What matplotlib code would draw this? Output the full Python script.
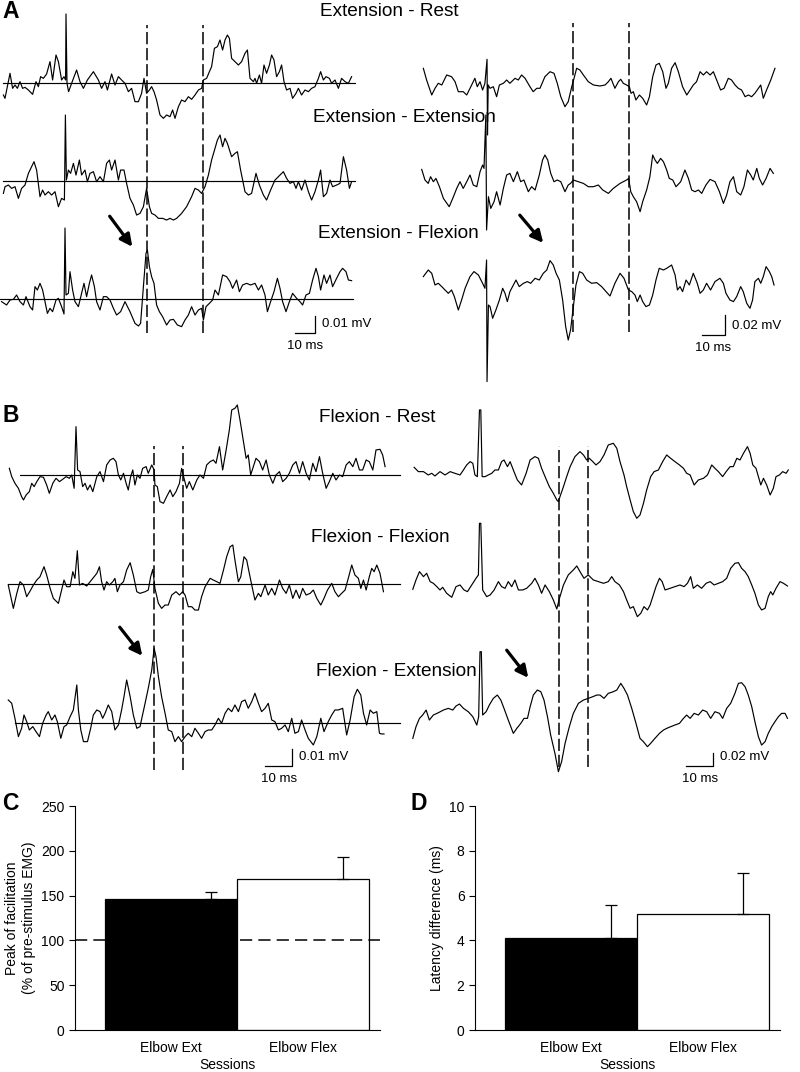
import numpy as np
import matplotlib.pyplot as plt

plt.rcParams['font.family'] = ['Liberation Sans', 'DejaVu Sans']

W, H = 800, 1072

# averaged EMG sweeps: (time from sweep start in ms, amplitude in uV)
ext_rest_L = np.array([
    (1.7, -7.2), (2.5, -9.2), (5, 5.8), (6.3, -3.2), (7.5, -1.2), (8.7, -3.2), (10, 0.8), (11.3, -3.2),
    (12.5, -2.6), (14.2, -4.2), (16.3, -6.8), (18, 0.8), (19.2, -2.2), (20.3, 3.8), (21.7, 2.8), (23.3, 5.4),
    (25, 12.8), (26.3, 1.8), (28, 16.8), (29.2, 12.8), (30.8, 1.8), (32, 3.8), (32.8, 1.8), (33, 41.4),
    (33.5, -0.2), (34.3, -5.2), (35.8, -0.2), (38.3, 7.8), (40, 0.8), (41.7, -3.2), (43.7, 1.8), (46.7, 6.8),
    (49.2, 1.8), (50.8, -3.2), (52.5, 0.8), (53.7, -4.2), (55.8, 5.4), (57.5, -1.2), (59.2, 3.8), (60.8, 1.8),
    (62.5, -0.2), (64.2, -5.2), (65.8, -3.2), (67.5, -11.2), (69.2, -11.2), (70.8, -6.2), (72, 2.8), (73.3, -6.2),
    (74.7, -4.2), (75.8, -2.2), (77, -5.2), (78.3, -10.2), (80, -19.2), (81.7, -21.2), (83.3, -19.2), (85, -20.2),
    (86.3, -16.2), (87.5, -21.2), (89.2, -14.2), (90.8, -10.2), (92.5, -11.2), (94.2, -8.2), (95.8, -9.8), (97.5, -7.2),
    (99.2, -4.2), (100.8, -3.2), (101.7, 1.8), (103.3, 2.8), (104.7, 6.8), (105.8, 9.8), (107.2, 20.8), (108.7, 21.8),
    (110, 25.8), (111.3, 19.8), (112.5, 25.8), (113.7, 28.8), (114.7, 26.8), (115.8, 14.8), (117.5, 12.8), (119.2, 10.8),
    (120.8, 12.8), (122.5, 17.8), (123.7, 19.8), (125, 2.8), (126.7, 0.8), (127.5, 2.8), (128.3, -0.2), (129.7, 4.8),
    (130.8, -0.2), (132, 10.8), (133.3, 5.8), (134.7, 10.8), (135.8, 16.8), (137, 13.8), (138.3, 3.8), (139.7, 6.8),
    (140.8, 10.8), (142, 0.8), (143.3, -4.2), (145, -3.2), (146.3, -9.2), (148, -6.2), (149.2, -3.2), (150.8, -7.2),
    (152.5, -4.2), (154.2, -5.2), (155.8, -3.2), (157.5, -2.2), (159.2, 2.8), (160.3, 6.8), (161.7, 1.8), (163, 3.8),
    (164.7, 2.8), (165.8, -0.2), (167.5, 1.8), (169.2, -3.2), (170.8, 2.8), (172.5, 0.8), (174.2, -0.2), (175.8, 3.8)])

ext_ext_L = np.array([
    (1.7, -7.6), (2.5, -3.6), (4.2, -2.6), (5.8, -4.6), (7.5, -3.6), (9.2, -10.6), (10.8, -4.6), (12.5, -2.6),
    (14.2, 4.4), (15.8, 8.4), (17, 11.4), (18.3, 6.4), (20, -9.6), (21.3, -5.6), (22.5, -8.6), (24.2, -6.6),
    (25.8, -8.6), (27.5, -6.6), (29.2, -15.6), (30.8, -10.6), (32.2, -11.6), (32.7, 39.4), (33.2, 0.4), (34.2, 6.4),
    (35.3, 4.4), (36.7, 10.4), (38, 3.4), (39.7, 12.4), (40.8, 3.4), (42.5, 6.4), (43.7, -0.6), (45, 4.4),
    (46.7, 5.4), (48.3, -0.6), (50, 2.4), (51.7, -0.6), (53.3, 10.4), (54.7, 12.4), (55.8, 6.4), (57.5, 12.4),
    (59.2, 0.4), (60.3, 6.4), (62, 6.4), (63.3, -1.6), (65, -10.6), (66.7, -14.6), (68.3, -20.6), (70, -19.6),
    (71.7, -15.6), (73.3, -4.6), (74.7, -15.6), (75.8, -19.6), (77.5, -20.6), (79.2, -22.6), (81.3, -22.6), (83.3, -23.6),
    (85, -22.6), (86.7, -23.6), (88.3, -22.6), (90.8, -19.6), (93.3, -15.6), (95.8, -9.6), (97.5, -4.6), (99.2, -5.6),
    (100.8, -7.6), (102.5, -3.6), (104.2, 3.4), (105.8, 12.4), (107.5, 19.4), (108.7, 24.4), (110, 27.4), (111.3, 20.4),
    (112.5, 25.4), (113.7, 22.4), (115.8, 14.4), (117.5, 16.4), (118.7, 17.4), (120.3, 6.4), (122.5, -6.6), (124.2, -8.6),
    (125.8, -7.6), (128, 4.4), (129.7, -2.6), (131.7, -8.6), (133.3, -11.6), (135.3, -5.6), (137.5, 0.4), (140, 3.4),
    (141.7, 5.4), (143.3, 1.4), (145, -1.6), (146.7, -0.6), (148, -4.6), (149.2, -0.6), (150.8, -5.6), (152.5, 0.4),
    (154.2, -6.6), (155.8, -11.6), (157.5, -6.6), (159.2, 0.4), (160.3, 6.4), (161.7, -9.6), (163.3, -7.6), (165, 0.4),
    (166.3, -3.6), (168.3, -2.6), (170, -1.6), (171.7, 14.4), (173.3, 6.4), (174.7, -4.6), (175.8, -0.6)])

ext_flex_L = np.array([
    (0.8, -1.6), (3.3, -3.6), (5, -0.6), (6.7, -0.2), (8.3, 2.4), (10, -1.6), (11.7, -3.6), (13, 1.4),
    (15, -4.6), (16.3, -6.6), (17.5, 7.4), (18.7, 5.4), (20, 9.4), (21.3, 5.4), (22.5, -1.6), (23.7, -8.6),
    (25, -5.6), (26.3, -7.6), (28, -0.6), (29.2, 0.4), (30.8, -4.6), (32, -9), (32.5, 42.6), (33, 2.4),
    (34.2, 3.4), (35, 16.4), (36.3, 5.4), (37.5, -1.6), (39.2, -4.6), (40.8, 3.4), (42, 9.4), (43.3, 1.4),
    (44.7, 9.4), (45.8, 14.4), (47.2, 7.4), (48.3, -1.6), (50, -6.6), (51.7, 1.4), (53.3, 1.4), (55, -0.6),
    (56.7, -5.6), (58.3, -9.6), (60.3, -7.6), (62.5, -1.6), (65, -7.6), (67.5, -14.6), (69.2, -16.2), (70.3, -14.6),
    (71.7, 7.4), (73, 27.4), (73.7, 29.4), (74.7, 19.4), (75.8, 13.4), (77, 9.4), (78.3, -3.6), (79.7, -7.6),
    (81.3, -10.6), (83.3, -15.6), (85, -12.6), (86.7, -12.2), (88.7, -15.6), (90.8, -16.6), (92.5, -12.6), (94.2, -9.6),
    (95.8, -4.6), (97.5, -9.6), (99.2, -6.6), (100.8, -5.6), (101.7, -12.6), (103, -4.6), (104.7, -2.6), (106.3, -0.6),
    (107.5, 5.4), (109.2, 2.4), (111.3, 14.4), (113.3, 13.4), (115, 10.4), (116.3, 6.4), (118.3, 11.4), (119.7, 4.4),
    (121.3, 8.4), (123.3, 9.4), (125.3, 8.4), (127.5, 9.4), (129.2, 5.4), (130.8, 8.4), (132.5, 2.4), (133.7, -7.6),
    (135.3, -1.6), (137, 4.4), (138.7, 12.4), (140, 6.4), (141.3, -1.6), (143, -7.6), (144.7, -1.6), (146.3, 3.4),
    (148.3, 0.4), (150, -1.6), (151.3, -3.6), (153, 2.4), (154.7, 3.4), (156.3, 11.4), (158, 18.4), (159.2, 13.4),
    (160.3, 5.4), (162, 14.4), (163.3, 9.4), (165, 14.4), (166.3, 7.4), (168.3, 12.4), (170, 16.4), (171.3, 18.4),
    (173, 16.4), (174.2, 11.4), (175.8, 11)])

ext_rest_R = np.array([
    (10, 11.7), (11.4, 0), (13.6, -15), (15, -8.3), (16.4, -3.3), (17.9, -5), (20, 5), (22.1, 3.3),
    (23.6, -1.7), (25, -11.7), (27.1, -11.7), (28.6, -15), (30.7, -5), (32.1, 1.7), (33.1, -6.7), (34.3, -1.7),
    (35.4, -10), (36.4, -3.3), (37.3, 20.7), (37.5, -55), (37.8, -5), (38.6, -8.3), (40, -6.7), (41.4, -16.7),
    (42.6, -5), (44.3, -3.3), (45.7, 0), (47.1, -3.3), (49.3, 1.7), (50.7, 0), (52.1, 5), (53.6, 1.7),
    (55.7, -6.7), (57.1, -11.7), (58.6, -8.3), (60, -8.3), (62.1, 3.3), (64.3, 8.3), (66, 6.7), (67.4, -3.3),
    (68.9, -16.7), (70.7, -26.7), (72.1, -21.7), (73.6, -6.7), (74.6, 1.7), (75.7, 11.7), (77.1, 10), (78.6, 5),
    (80.7, -1.7), (82.9, -5), (85.7, -6), (87.9, -5), (89.3, -1.7), (90.4, 1.7), (92.1, -8.3), (93.6, -1.7),
    (94.6, 0.7), (95.7, -3.3), (97.1, -5), (98.3, -6.7), (99, -13.3), (100, -11.7), (101.1, -20), (102.6, -15),
    (104, -18.3), (105.7, -25), (106.9, -16.7), (108.3, 3.3), (109.7, 15), (111.1, 16.7), (112.6, 8.3), (114, -8.3),
    (115, -3.3), (116.4, 11.7), (117.9, 17.3), (119.3, 8.3), (121.1, -6.7), (122.9, -15), (124.3, -10), (125.7, -5),
    (127.1, -1.7), (128.6, 8.3), (130, 5), (131.4, 8.3), (132.9, 5), (134.3, 8.3), (136, -1.7), (137.4, -10),
    (138.9, -8.3), (140.7, 1.7), (142.1, 0), (143.6, -5), (145, -8.3), (146.4, -10), (147.9, -16.7), (149.3, -15),
    (150.7, -16.7), (152.1, -13.3), (153.6, -8.3), (154.6, -5), (155.7, -18.3), (157.1, -10), (158.9, 0), (160.7, 11.7)])

ext_ext_R = np.array([
    (9.3, 12.3), (10.7, 1.7), (12.1, -1.7), (13.1, 5), (14.3, 0), (15.4, 3.3), (16.9, -5), (18.6, -16.7),
    (21.1, -25), (22.9, -15), (24.3, -6.7), (25.7, 0), (27.1, -6.7), (28.6, 0), (30, 6.7), (31.4, -3.3),
    (32.9, -5), (34.3, 10), (35.4, 16.7), (36, 13.3), (36.8, 66.7), (37.1, -48.3), (37.9, -15), (38.9, -26.7),
    (40.3, -20), (41.4, -10), (42.9, -23.3), (44.3, -6.7), (45.7, 6.7), (47.1, 8.3), (48.6, 0), (50.3, 10),
    (51.7, 0), (53.1, 1.7), (55, -10), (56.4, -5), (57.9, -8.3), (59.7, 6.7), (61.1, 21.7), (62.1, 26.7),
    (63.3, 21.7), (64.6, 8.3), (66, 0), (67.4, 1.7), (68.9, 0), (70.7, -10), (72.1, -3.3), (73.1, -1.7),
    (74.3, 1.7), (76.4, 0), (78.6, -1.7), (80.7, -5), (82.9, -5), (85, -3.3), (86.9, -8.3), (89.3, -11.7),
    (91.4, -6.7), (94.3, -1.7), (97.1, 1.7), (98, 3.3), (98.9, -10), (100, -15), (101.4, -20), (102.9, -30),
    (104, -20), (105.7, -8.3), (107.1, 5), (108.3, 26.7), (109.3, 21.7), (110.3, 18.3), (111.7, 23.3), (112.9, 20),
    (114.3, 11.7), (115.4, 3.3), (116.9, 1.7), (118.3, -5), (120.3, 0), (122.1, 11.7), (123.6, 3.3), (125, -8.3),
    (126.4, -10), (127.9, -8.3), (129.3, -11.7), (131.1, -3.3), (132.9, 2.3), (135, 0), (136.9, -10), (138.6, -21.7),
    (140, -13.3), (141.4, 0), (142.9, 5), (144.3, -10), (146, -13.3), (147.4, -5), (148.9, 11.7), (150.3, 6.7),
    (151.4, 1.7), (152.9, 13.3), (154, 3.3), (155.4, -3.3), (156.9, 3.3), (158.6, 13.3), (160, 8.3)])

ext_flex_R = np.array([
    (10, 6.7), (12.1, 13.3), (13.6, 10), (15, -1.7), (16.4, 0), (17.9, -3.3), (19.3, -6.7), (20.7, -10),
    (22.1, -6.7), (23.3, -13.3), (25, -26.7), (26.4, -16.7), (27.9, -5), (30, 6.7), (31.7, 11.7), (33.6, 8.3),
    (35.4, 0), (36.4, -5), (37.1, 23.3), (37.3, -98.3), (37.9, -21.7), (38.6, -23.3), (39.7, -35), (41.1, -26.7),
    (42.6, -16.7), (44, -5), (45, -10), (46, -18.3), (47.1, -8.3), (48.6, -1.7), (49.7, 3.3), (51.1, -3.3),
    (52.9, 0), (54.6, 1.7), (56, 0), (57.9, 5), (59.7, 3.3), (61.4, 10), (62.9, 13.3), (64.3, 22.7),
    (65.7, 18.3), (66.9, 10), (68.3, 3.3), (69.7, -16.7), (71, -43.3), (72.1, -56.7), (73.1, -46.7), (74.3, -23.3),
    (75.4, -1.7), (76.9, 11.7), (78.3, 10), (80, 3.3), (82.1, 0), (84.3, 0.7), (86.4, -3.3), (88.3, -8.3),
    (90, -12.7), (92.1, 0), (94.3, 10), (96, 5), (97.9, -6.7), (99.3, -8.3), (100.7, -11.7), (101.7, -18.3),
    (102.9, -11.7), (104, -18.3), (105.4, -23.3), (106.9, -21.7), (108.3, -11.7), (109.7, 3.3), (111.1, 15), (112.9, 13.3),
    (114.3, 15), (116.4, 18.3), (117.9, 8.3), (118.9, -6.7), (120, -3.3), (121.1, -8.3), (122.6, 3.3), (124, -1.7),
    (125.7, 10), (127.4, 0), (128.6, -10), (130, -6.7), (131.4, 0), (133.1, -6.7), (135, 1.7), (137.1, 5),
    (138.6, 0), (139.7, -10), (141.4, -16.7), (142.9, -18.3), (144.3, -13.3), (146, -3.3), (147.1, -8.3), (148.6, -20),
    (150, -25), (151.1, -16.7), (152.1, 1.7), (153.6, 5), (154.6, 0), (155.7, 6.7), (156.9, 16.7), (158.3, 11.7),
    (159.3, 6.7), (160.3, -1.7)])

flex_rest_L = np.array([
    (3.5, 4.2), (4.4, -0.8), (5.6, -4.8), (6.9, -7.8), (8.1, -12.8), (8.8, -14.8), (9.8, -11.8), (11, -9.8),
    (11.9, -4.8), (12.8, -6.8), (13.8, -3.8), (15, -0.8), (16.3, -1.2), (17.5, -5.8), (18.5, -10.8), (19.8, -4.8),
    (21, -1.8), (22.3, -3.8), (23.5, -2.4), (24.8, -0.8), (26, -1.8), (26.9, 0.2), (27.8, -7.8), (28.5, 29.2),
    (29.1, 3.2), (30, 2.2), (31, -6.8), (31.9, -4.8), (32.8, -8.8), (33.8, -5.8), (34.8, -9.8), (36.3, -0.8),
    (37.5, 2.2), (38.8, -3.8), (40, 6.2), (41.3, 9.2), (42.5, 10.2), (43.5, 8.2), (44.4, 0.2), (45.3, -2.8),
    (46.3, 1.2), (47.3, -4.8), (48.1, -8.8), (49, -0.8), (49.8, 3.2), (50.6, -5.8), (51.5, 0.2), (52.5, -1.8),
    (53.5, 4.2), (54.8, 5.2), (55.6, 1.2), (56.9, 6.2), (57.8, 3.2), (58.1, -5.8), (59, -6.8), (60, -15.8),
    (61.3, -16.8), (62.5, -12.8), (63.8, -8.8), (64.8, -12.8), (66, -9.8), (67.3, -4.8), (68.1, 4.2), (69, -1.8),
    (70, -7.8), (71, -3.8), (72.3, -8.8), (73.8, -2.8), (75, 0.2), (76.3, -1.8), (77.5, 6.2), (78.8, 8.2),
    (80, 9.2), (81, 7.2), (82.3, 17.2), (83.5, 3.2), (84.8, 15.2), (86, 27.2), (86.9, 39.2), (88.1, 40.2),
    (89, 42.2), (90, 33.2), (91.3, 20.2), (92.3, 10.2), (93.1, 12.2), (94, 0.2), (95, 5.2), (96, 10.2),
    (97.3, 8.2), (98.5, 3.2), (99.8, 9.2), (101, 0.2), (102.3, -4.8), (103.5, 0.2), (104.8, 2.2), (106, -3.8),
    (107.3, -1.8), (108.5, 1.2), (109.8, 6.2), (111, 8.2), (112.3, 1.2), (113.5, 8.2), (114.8, 1.2), (116, -2.8),
    (117.3, 7.2), (118.5, 2.2), (119.8, 11.2), (121, 1.2), (122.3, -7.8), (123.5, -3.8), (124.8, 1.2), (126, -2.8),
    (127.3, 0.2), (128.5, -0.8), (129.8, 6.2), (131, 8.2), (132.3, 5.2), (133.5, 10.2), (134.8, 3.2), (136, 3.2),
    (137.3, 9.2), (138.5, 8.2), (139.8, 3.2), (141, 15.2), (142.5, 15.6), (143.5, 12.2), (144.4, 5.2)])

flex_flex_L = np.array([
    (3.1, -0.8), (5, -14.8), (6.3, -5.8), (7.5, 1.2), (8.8, -0.8), (10, -7.8), (11.5, -3.8), (12.5, -0.8),
    (13.8, 2.2), (15, 4.2), (16.5, 10.2), (17.5, 5.2), (18.8, -2.8), (20, -8.8), (21.9, -11.8), (23.1, -3.8),
    (24, 2.2), (25, -1.8), (26.3, -1.8), (27.3, 7.2), (28.1, 3.2), (29, 19.8), (29.8, -0.8), (31, 0.2),
    (32.5, -1.4), (33.8, 1.2), (35.3, 4.2), (36.3, 6.2), (37.3, 10.2), (38.1, 1.2), (39, -3.8), (40, 1.2),
    (41, -0.8), (42.3, 1.2), (43.1, 3.2), (44, -4.8), (45, -0.8), (46.3, 1.2), (47.5, 8.2), (48.8, 12.6),
    (50, 5.2), (51.3, -4.8), (52.5, -5.8), (54.4, -4.8), (55.6, -3.8), (56.5, 4.2), (57.3, 8.6), (58.1, -2.8),
    (59.4, -11.8), (60.6, -14.8), (61.9, -12.8), (63.1, -12.8), (64.4, -6.8), (66, -4.8), (67.3, -6.8), (68.5, -4.8),
    (69.4, -6.8), (70.6, -13.8), (71.9, -13.8), (73.1, -15.8), (74.4, -15.8), (75.6, -7.8), (76.9, -1.8), (78.8, 3.2),
    (80, 2.2), (81.3, 1.2), (82.5, 0.2), (83.8, 8.2), (85, 16.2), (86.3, 22.2), (87.3, 23.2), (88.1, 14.2),
    (89.4, 1.2), (90.3, 4.2), (91.5, 16.2), (92.5, 14.2), (93.5, 6.2), (94.4, -0.8), (95.6, -9.8), (96.9, -5.8),
    (97.8, -7.8), (99.4, -0.8), (100.6, -6.8), (101.9, -2.8), (103.1, -6.8), (104.8, 2.2), (106, -2.8), (107.3, -5.8),
    (108.5, -0.8), (109.8, -8.8), (111, -3.8), (112.3, -8.8), (113.5, -2.8), (114.8, -6.8), (116.3, -5.8), (117.5, -3.8),
    (118.8, -8.8), (120.3, -12.8), (121.5, -8.8), (122.8, -3.8), (124.4, 0.2), (125.6, -4.8), (126.9, -7.8), (128.1, -5.8),
    (129.4, -3.8), (130.6, 3.2), (131.9, 11.2), (133.1, 5.2), (134.4, 3.2), (135.3, -2.8), (136.3, 2.2), (137.3, -3.8),
    (138.5, 4.2), (139.4, 9.2), (140.3, 7.2), (141.3, 11.2), (142.5, 6.2), (143.8, -4.8)])

flex_ext_L = np.array([
    (3.1, 14), (4.4, 12), (5.6, 3), (6.9, -8), (8.1, -3), (9, 5), (10, 1), (11, -4),
    (12.3, -2), (13.5, -5), (14.8, -8), (16, 0), (17.3, 5), (18.1, 7), (19.4, 2), (20.6, 5),
    (21.5, 1), (22.8, -9), (24, -2), (25, -1), (26.3, 4), (27.5, 8), (28.8, 23), (29.4, 8),
    (30.3, -4), (31.3, -11), (32.8, -11), (34, -3), (35, 5), (36.3, 8), (37.5, 7), (38.5, 3),
    (39.4, 6), (40.6, 11), (41.9, 7), (43.1, -4), (44.4, -1), (45.6, 8), (46.5, 16), (47.5, 26),
    (48.8, 16), (50, 5), (51.3, -3), (52.5, -2), (54, 9), (55.6, 21), (56.9, 32), (57.8, 45),
    (58.5, 40), (59.4, 28), (60.6, 16), (61.9, 6), (63.1, -4), (64.4, -5), (65.6, -11), (66.9, -8),
    (68.1, -11), (69.4, -8), (70.6, -6), (71.9, -8), (73.1, -3), (74.4, -6), (75.6, -9), (76.9, -5),
    (78.1, -4), (79.4, -4), (80.6, -1), (81.9, 3), (83.1, 0), (84.4, 6), (85.6, 9), (86.9, 7),
    (88.1, 11), (89.4, 7), (90.6, 13), (91.9, 14), (93.1, 9), (94.4, 13), (95.6, 18), (96.9, 12),
    (98.1, 7), (99.4, 9), (100.6, 12), (101.9, 2), (103.1, 1), (104.4, -4), (105.6, -3), (106.9, -1),
    (108.1, -5), (109.4, 3), (110.6, -6), (111.9, -5), (113.1, 2), (114.4, -4), (115.6, -9), (117.5, -13),
    (118.8, -8), (120.3, 3), (121.5, -5), (123.1, 1), (124.4, 5), (125.6, 8), (126.9, 8), (128.5, 9),
    (130, -7), (131.3, 2), (132.8, 16), (134, 20.4), (135.3, 17), (136.3, 6), (137.5, -1), (138.8, 8),
    (140, 6), (141.3, 7), (142.3, -6), (143.1, -6.4), (144, -6.4)])

flex_rest_R = np.array([
    (5.3, 9), (6.9, 2.5), (8.8, 2.5), (10.6, -2.5), (11.9, 0), (13.1, -4), (15, 2.5), (16.9, -2.5),
    (18.8, 2.5), (20.6, 0), (22.5, -2.5), (23.8, 5), (25, 12.5), (26.3, 17.5), (27.3, 15), (28.1, -2.5),
    (29, -5), (29.8, 95), (30.3, 95), (30.8, -5), (31.9, -5), (33.1, -2.5), (34.4, 0), (35.6, 5),
    (36.9, 5), (38.1, 17.5), (39, 20), (40.3, 10), (41.3, 17.5), (42.5, 5), (44, -10), (45.6, -17.5),
    (47.3, 0), (48.8, 20), (50.6, 25), (51.9, 22.5), (53.1, 7.5), (54.4, -5), (56, -20), (57.5, -30),
    (58.8, -40), (59.4, -42.5), (60, -35), (61.3, -20), (62.5, -5), (63.8, 10), (65.6, 25), (67.5, 32.5),
    (68.8, 27.5), (70, 20), (71, 22.5), (72.3, 17.5), (73.5, 12.5), (75, 17.5), (76.5, 27.5), (78.1, 42.5),
    (80, 45), (81.3, 37.5), (82.5, 17.5), (84, -2.5), (85, -20), (86.3, -40), (87.5, -57.5), (88.8, -67.5),
    (90, -62.5), (91.3, -45), (92.5, -25), (94, -5), (95.3, 2.5), (96.9, 5), (98.5, 17.5), (100, 27.5),
    (101.5, 22.5), (103.1, 17.5), (104.8, 12.5), (106.3, 7.5), (107.5, 0), (108.8, -2.5), (110.3, -17.5), (111.9, -10),
    (113.8, -7.5), (115.3, -2.5), (116.9, 12.5), (118.1, 7.5), (119.4, 2.5), (121, -5), (122.3, 2.5), (123.8, 10),
    (125, 10), (126.3, 22.5), (127.5, 20), (128.8, 30), (130.3, 40), (131.3, 30), (132.3, 12.5), (133.5, 7.5),
    (134.4, -5), (135.3, -17.5), (136.3, -7.5), (137.5, -17.5), (138.8, -32.5), (140, -22.5), (141, -5), (142.3, -2.5),
    (143.5, 2.5), (144.8, 0), (145.6, 5)])

flex_flex_R = np.array([
    (4.8, -9), (6, 5), (7.3, 17.5), (8.8, 10), (10, 15), (11.3, 2.5), (12.5, 0), (13.8, -5),
    (15, -10), (16, -6), (17.5, -15), (19.4, -21), (21, -5), (22.5, -2.5), (24, -10), (25.3, -12.5),
    (26.9, -2.5), (28.5, 7.5), (29.4, 12.5), (29.8, 90), (30.3, 90), (31, -10), (32.5, -20), (33.8, -17.5),
    (35.3, -10), (36.9, 2.5), (38.1, -5), (39.4, -7.5), (40.6, 2.5), (41.9, -5), (43.1, 5), (44.4, -10),
    (46, -10), (47.5, -7.5), (49.4, 0), (50.6, 7.5), (51.9, -2.5), (53.1, -15), (54.4, -2.5), (56, -12.5),
    (57.5, -25), (58.8, -38.5), (59.8, -22.5), (61.3, -2.5), (63.1, 12.5), (65, 20), (66.3, 26), (67.5, 17.5),
    (69, 7.5), (70.6, 12.5), (72.5, 5), (74.4, 2.5), (76.3, 0), (78.1, 2.5), (79.4, 10), (80.6, 2.5),
    (82.3, -2.5), (83.8, -12.5), (85, -25), (86.3, -37.5), (87.5, -35), (89, -50), (90.3, -45), (91.5, -35),
    (92.8, -40), (93.8, -32.5), (94.8, -20), (96, -5), (97.3, 7.5), (98.3, 2.5), (99.4, -10), (101.3, -7.5),
    (103.1, -5), (105, -2.5), (106.5, -5), (107.8, 0), (109, 10), (110, -7.5), (111.5, -2.5), (113.1, -7.5),
    (114.8, 0), (116.3, 2.5), (117.8, -2.5), (119.4, 0), (121, 2.5), (122.5, 7.5), (124, 22.5), (125.6, 30),
    (126.9, 31), (128.1, 22.5), (129.4, 17.5), (130.6, 10), (131.9, -2.5), (133.1, -15), (134.4, -32.5), (135.6, -40),
    (136.9, -37.5), (138.1, -20), (139, -12.5), (139.8, -17.5), (141, -7.5), (142.5, 2.5), (143.8, 0), (145.3, -4)])

flex_ext_R = np.array([
    (4.8, -32.5), (6, -15), (7.3, -2.5), (8.5, 2.5), (9.8, 10), (11, -5), (12.5, 2.5), (14.4, 6),
    (16.3, 10), (18.1, 12.5), (19.8, 10), (21, 16), (22.3, 19), (23.8, 12.5), (25.6, 7.5), (27.3, 0),
    (28.8, -12.5), (29.5, 0), (30, 97.5), (30.5, 97.5), (31, 2.5), (32.3, 7.5), (33.5, 17.5), (35, 27.5),
    (36.5, 32.5), (37.8, 25), (39, 12.5), (40.6, -5), (42.5, -25), (43.8, -17.5), (45.3, -10), (46.5, -2.5),
    (47.8, -2.5), (48.8, 15), (50, 32.5), (51.5, 40), (52.8, 37.5), (54, 25), (55.3, 0), (56.5, -27.5),
    (58.1, -55), (59.4, -82.5), (60.6, -67.5), (61.9, -40), (63.5, -15), (65, 5), (66.9, 20), (68.8, 25),
    (70.6, 27.5), (72.3, 30), (73.8, 32.5), (75, 32.5), (76.5, 27.5), (78.1, 35), (80, 37.5), (81.3, 40),
    (82.8, 50), (84, 42.5), (85.3, 32.5), (86.9, 12.5), (88.5, -10), (90, -32.5), (91.3, -37.5), (92.8, -45),
    (94, -40), (95.6, -32.5), (97.3, -25), (98.8, -20), (100, -17.5), (101.5, -15), (103.1, -12.5), (104.8, -10),
    (106.3, -2.5), (107.5, 2.5), (108.8, -2.5), (110.3, 5), (111.9, 2.5), (113.5, 10), (115, 7.5), (116.5, -2.5),
    (118.1, 7.5), (119.8, 5), (121, -2.5), (122.5, 12.5), (124, 20), (125.6, 35), (126.9, 50), (128.1, 51),
    (129.4, 45), (130.6, 32.5), (131.9, 15), (133.1, -7.5), (134.4, -30), (135.6, -42.5), (136.9, -37.5), (138.1, -25),
    (139.4, -15), (140.6, -7.5), (141.9, 0), (143.1, 5), (144.4, 5), (145.3, -2.5)])

# latency window (ms) marked by the dashed lines
win_ext_L = [73.5, 101.5]
win_ext_R = [74.1, 98.1]
win_flex_L = [57.75, 68.6]
win_flex_R = [59.6, 70.5]

titles_ext = ['Extension - Rest', 'Extension - Extension', 'Extension - Flexion']
titles_flex = ['Flexion - Rest', 'Flexion - Flexion', 'Flexion - Extension']

sessions = ['Elbow Ext', 'Elbow Flex']
peak_fac = [146, 168]
peak_fac_err = [8, 25]
latency = [4.1, 5.2]
latency_err = [1.5, 1.8]

fig = plt.figure(figsize=(W / 100, H / 100), dpi=100)

# overlay in pixel units for labels and arrows
lay = fig.add_axes([0, 0, 1, 1])
lay.set_xlim(0, W)
lay.set_ylim(H, 0)
lay.set_axis_off()


def column(x0, bases, ppm, ppu, traces, window, dash_y, bar_xy, bar_amp, bar_text, zero_lines=None):
    # data (0, 0) sits at pixel (x0, bases[0]); ppm px per ms, ppu px per uV
    ax = fig.add_axes([0, 0, 1, 1])
    ax.set_xlim(-x0 / ppm, (W - x0) / ppm)
    ax.set_ylim(-(H - bases[0]) / ppu, bases[0] / ppu)
    ax.set_axis_off()
    ax.patch.set_alpha(0)
    yv = lambda py: (bases[0] - py) / ppu
    for k, tr in enumerate(traces):
        off = yv(bases[k])
        ax.plot(tr[:, 0], tr[:, 1] + off, color='black', lw=0.85)
        if zero_lines is not None:
            ax.plot(zero_lines[k], [off, off], color='black', lw=0.85)
    for t in window:
        ax.plot([t, t], [yv(dash_y[1]), yv(dash_y[0])], color='black', lw=1.1, dashes=(8, 2.5))
    cx = (bar_xy[0] - x0) / ppm
    cy = yv(bar_xy[1])
    ax.plot([cx - 10, cx, cx], [cy, cy, cy + bar_amp], color='black', lw=0.9)
    lay.text(bar_xy[0] + 7, bar_xy[1] - 9, bar_text, fontsize=9.5, va='center', ha='left')
    lay.text(bar_xy[0] - 10 * ppm / 2, bar_xy[1] + 13, '10 ms', fontsize=9.5, va='center', ha='center')
    return ax


column(0, [83, 180.7, 299], 2.0, 5 / 3, [ext_rest_L, ext_ext_L, ext_flex_L], win_ext_L,
       (25, 333), (315, 333), 10, '0.01 mV',
       zero_lines=[(1.7, 177.5), (1.7, 177.5), (0, 176.3)])
column(400, [80, 181.7, 283.3], 7 / 3, 1.0, [ext_rest_R, ext_ext_R, ext_flex_R], win_ext_R,
       (23, 332), (725, 335), 20, '0.02 mV')
column(0, [475.3, 583.7, 723.3], 8 / 3, 5 / 3, [flex_rest_L, flex_flex_L, flex_ext_L], win_flex_L,
       (446, 770), (292, 766), 10, '0.01 mV',
       zero_lines=[(7.5, 150), (3.1, 150), (5.6, 150)])
column(400, [473.3, 583.3, 716.7], 8 / 3, 2 / 3, [flex_rest_R, flex_flex_R, flex_ext_R], win_flex_R,
       (446, 767), (713, 766), 20, '0.02 mV')

for txt, (x, y) in zip(titles_ext, [(389, 12), (404, 118), (398, 233)]):
    lay.text(x, y, txt, fontsize=13.7, ha='center', va='center')
for txt, (x, y) in zip(titles_flex, [(377, 418), (380, 537), (396, 672)]):
    lay.text(x, y, txt, fontsize=13.7, ha='center', va='center')

for (x1, y1), (x2, y2) in [((108, 214), (134, 249)), ((518, 213), (545, 245)),
                           ((118, 625), (144, 658)), ((505, 648), (530, 680))]:
    lay.annotate('', xy=(x2, y2), xytext=(x1, y1),
                 arrowprops=dict(arrowstyle='-|>', color='black', lw=2.3, mutation_scale=18))

for letter, (x, y) in zip('ABCD', [(2, 11), (2, 415), (2, 804), (411, 804)]):
    lay.text(x, y, letter, fontsize=16.5, fontweight='bold', ha='left', va='center')

# summary bars
axC = fig.add_axes([75 / W, (H - 1030) / H, 305 / W, 224 / H])
axD = fig.add_axes([475 / W, (H - 1030) / H, 305 / W, 224 / H])
for ax, vals, errs, top, step, ylab in [
        (axC, peak_fac, peak_fac_err, 250, 50, 'Peak of facilitation\n(% of pre-stimulus EMG)'),
        (axD, latency, latency_err, 10, 2, 'Latency difference (ms)')]:
    pos = np.arange(len(sessions))
    ax.bar(pos, vals, width=1.0, color=['black', 'white'], edgecolor='black', linewidth=0.9)
    ax.errorbar(pos + 0.3, vals, yerr=[np.zeros(len(errs)), errs], fmt='none',
                ecolor='black', elinewidth=0.9, capsize=4, capthick=0.9)
    ax.set_xlim(-0.725, 1.58)
    ax.set_ylim(0, top)
    ax.set_yticks(np.arange(0, top + step / 2, step))
    ax.set_xticks(pos)
    ax.set_xticklabels(sessions)
    ax.tick_params(labelsize=10, length=4, width=0.8)
    ax.tick_params(axis='x', length=0, pad=8)
    ax.set_xlabel('Sessions', fontsize=10, labelpad=2)
    ax.set_ylabel(ylab, fontsize=10)
    for s in ['top', 'right']:
        ax.spines[s].set_visible(False)
    for s in ['left', 'bottom']:
        ax.spines[s].set_linewidth(0.8)
axC.axhline(100, color='black', lw=1.1, dashes=(8, 4))

fig.savefig('out.png', dpi=100)
